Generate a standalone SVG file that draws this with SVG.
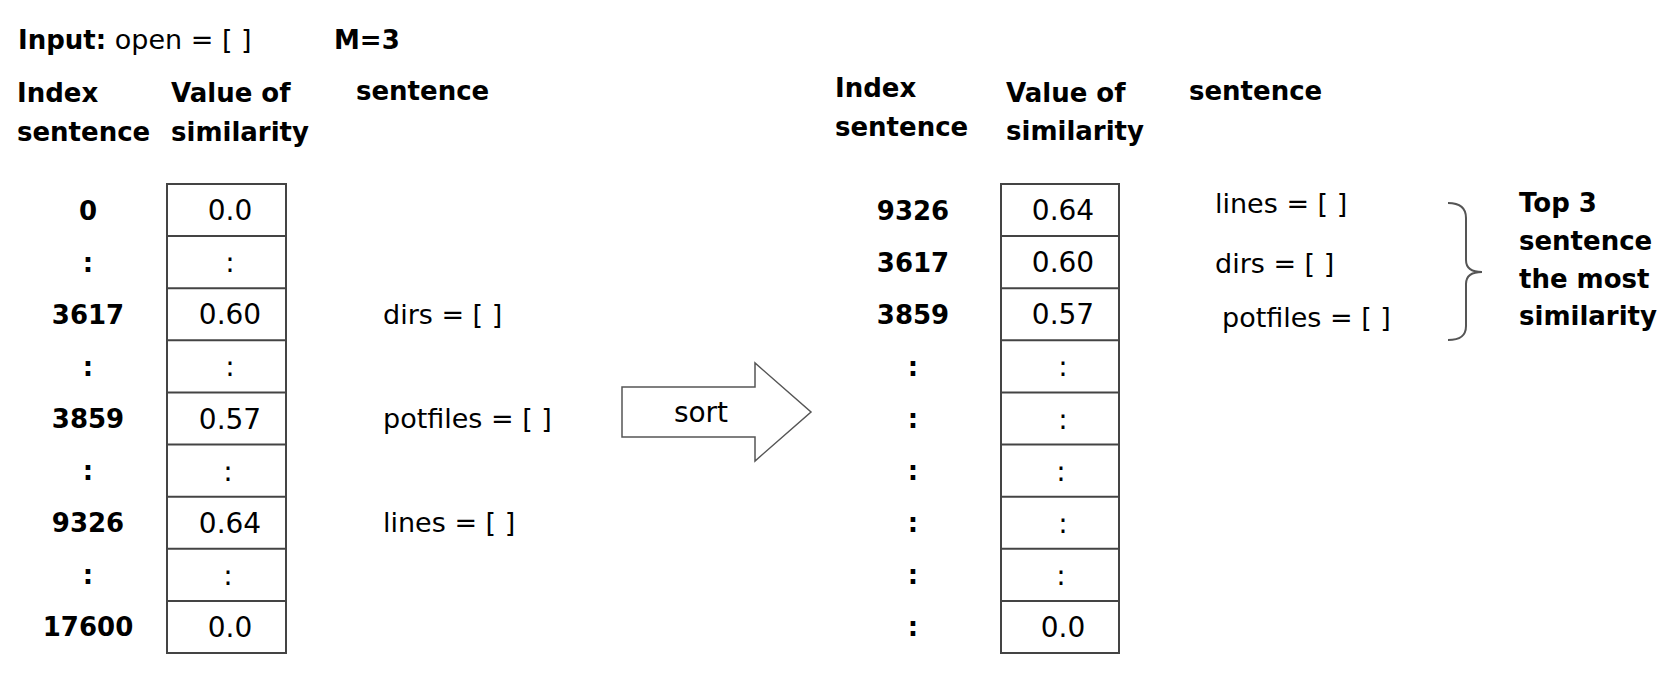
<svg xmlns="http://www.w3.org/2000/svg" width="1678" height="677" viewBox="0 0 1678 677">
<style>
text{font-family:"DejaVu Sans","Liberation Sans",sans-serif;font-size:26px;fill:#000}
.b{font-weight:bold}
.c{text-anchor:middle}
.v{font-size:28px}
.s{font-size:27px}
.cell{fill:#fff;stroke:#444;stroke-width:2}
.ln{stroke:#444;stroke-width:2}
.arrow{fill:#fff;stroke:#555;stroke-width:1.5}
.brace{fill:none;stroke:#555;stroke-width:2}
</style>
<rect width="1678" height="677" fill="#fff"/>
<g id="title">
<text x="18" y="49"><tspan class="b">Input:</tspan><tspan font-size="27"> open = [ ]</tspan></text>
<text class="b" x="334" y="49">M=3</text>
</g>
<g id="left-headers">
<text class="b" x="17" y="102">Index</text>
<text class="b" x="17" y="141">sentence</text>
<text class="b" x="171" y="102">Value of</text>
<text class="b" x="171" y="141">similarity</text>
<text class="b" x="356" y="100">sentence</text>
</g>
<g id="left-index">
<text class="b c" x="88" y="219.6">0</text>
<text class="b c" x="88" y="271.7">:</text>
<text class="b c" x="88" y="323.8">3617</text>
<text class="b c" x="88" y="375.9">:</text>
<text class="b c" x="88" y="428">3859</text>
<text class="b c" x="88" y="480.1">:</text>
<text class="b c" x="88" y="532.2">9326</text>
<text class="b c" x="88" y="584.3">:</text>
<text class="b c" x="88" y="636.4">17600</text>
</g>
<g id="left-table">
<rect class="cell" x="167" y="184" width="119" height="469"/>
<line class="ln" x1="167" y1="236.1" x2="286" y2="236.1"/>
<line class="ln" x1="167" y1="288.2" x2="286" y2="288.2"/>
<line class="ln" x1="167" y1="340.3" x2="286" y2="340.3"/>
<line class="ln" x1="167" y1="392.4" x2="286" y2="392.4"/>
<line class="ln" x1="167" y1="444.6" x2="286" y2="444.6"/>
<line class="ln" x1="167" y1="496.7" x2="286" y2="496.7"/>
<line class="ln" x1="167" y1="548.8" x2="286" y2="548.8"/>
<line class="ln" x1="167" y1="600.9" x2="286" y2="600.9"/>
<text class="c v" x="230" y="220">0.0</text>
<text class="c v" x="230" y="272">:</text>
<text class="c v" x="230" y="324">0.60</text>
<text class="c v" x="230" y="376">:</text>
<text class="c v" x="230" y="428.5">0.57</text>
<text class="c v" x="228" y="480.5">:</text>
<text class="c v" x="230" y="532.5">0.64</text>
<text class="c v" x="228" y="584.5">:</text>
<text class="c v" x="230" y="637">0.0</text>
</g>
<g id="left-sentences">
<text class="s" x="383" y="324">dirs = [ ]</text>
<text class="s" x="383" y="428">potfiles = [ ]</text>
<text class="s" x="383" y="532">lines = [ ]</text>
</g>
<g id="connectors">
<g id="sort-arrow">
<polygon class="arrow" points="622,387 755,387 755,363 811,412 755,461 755,437 622,437"/>
<text class="c v" x="701" y="422">sort</text>
</g>
<path id="brace" class="brace" d="M1448,203 C1460,203 1466,208 1466,218 L1466,260 C1466,268 1472,272 1482,272 C1472,272 1466,276 1466,284 L1466,326 C1466,336 1460,340 1448,340"/>
</g>
<g id="right-headers">
<text class="b" x="835" y="97">Index</text>
<text class="b" x="835" y="136">sentence</text>
<text class="b" x="1006" y="102">Value of</text>
<text class="b" x="1006" y="140">similarity</text>
<text class="b" x="1189" y="100">sentence</text>
</g>
<g id="right-index">
<text class="b c" x="913" y="219.6">9326</text>
<text class="b c" x="913" y="271.7">3617</text>
<text class="b c" x="913" y="323.8">3859</text>
<text class="b c" x="913" y="375.9">:</text>
<text class="b c" x="913" y="428">:</text>
<text class="b c" x="913" y="480.1">:</text>
<text class="b c" x="913" y="532.2">:</text>
<text class="b c" x="913" y="584.3">:</text>
<text class="b c" x="913" y="636.4">:</text>
</g>
<g id="right-table">
<rect class="cell" x="1001" y="184" width="118" height="469"/>
<line class="ln" x1="1001" y1="236.1" x2="1119" y2="236.1"/>
<line class="ln" x1="1001" y1="288.2" x2="1119" y2="288.2"/>
<line class="ln" x1="1001" y1="340.3" x2="1119" y2="340.3"/>
<line class="ln" x1="1001" y1="392.4" x2="1119" y2="392.4"/>
<line class="ln" x1="1001" y1="444.6" x2="1119" y2="444.6"/>
<line class="ln" x1="1001" y1="496.7" x2="1119" y2="496.7"/>
<line class="ln" x1="1001" y1="548.8" x2="1119" y2="548.8"/>
<line class="ln" x1="1001" y1="600.9" x2="1119" y2="600.9"/>
<text class="c v" x="1063" y="220">0.64</text>
<text class="c v" x="1063" y="272">0.60</text>
<text class="c v" x="1063" y="324">0.57</text>
<text class="c v" x="1063" y="376">:</text>
<text class="c v" x="1063" y="428.5">:</text>
<text class="c v" x="1061" y="480.5">:</text>
<text class="c v" x="1063" y="532.5">:</text>
<text class="c v" x="1061" y="584.5">:</text>
<text class="c v" x="1063" y="637">0.0</text>
</g>
<g id="right-sentences">
<text class="s" x="1215" y="213">lines = [ ]</text>
<text class="s" x="1215" y="273">dirs = [ ]</text>
<text class="s" x="1222" y="327">potfiles = [ ]</text>
</g>
<g id="top3-label">
<text class="b" x="1519" y="212">Top 3</text>
<text class="b" x="1519" y="250">sentence</text>
<text class="b" x="1519" y="288">the most</text>
<text class="b" x="1519" y="325">similarity</text>
</g>
</svg>
